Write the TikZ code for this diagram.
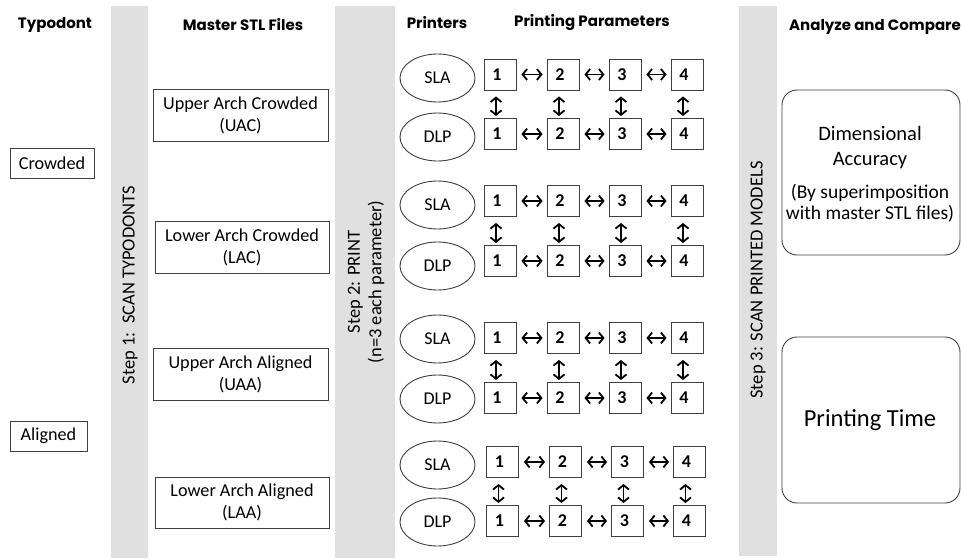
\documentclass[tikz,border=0pt]{standalone}
\usepackage{fontspec}
\setmainfont{Carlito}
\newfontfamily\hfont{Poppins}
\usetikzlibrary{shapes.geometric,arrows.meta}
\tikzset{
  hdr/.style={font=\hfont\bfseries\fontsize{15}{18}\selectfont},
  band/.style={fill=black!12,draw=none},
  plain/.style={draw=black!75,line width=0.9pt,font=\fontsize{18.2}{22}\selectfont,inner sep=0pt,align=center},
  printer/.style={ellipse,draw=black!75,line width=0.9pt,minimum width=75pt,minimum height=48pt,inner sep=0pt,font=\fontsize{18}{20}\selectfont},
  numbox/.style={draw=black!75,line width=0.9pt,minimum width=32pt,minimum height=31pt,inner sep=0pt,font=\bfseries\fontsize{18}{20}\selectfont},
  harr/.style={line width=1.8pt,{Straight Barb[length=4.5pt,width=11pt]}-{Straight Barb[length=4.5pt,width=11pt]},shorten <=5pt,shorten >=4pt},
  varr/.style={line width=1.8pt,{Straight Barb[length=4.5pt,width=11pt]}-{Straight Barb[length=4.5pt,width=11pt]},shorten <=6pt,shorten >=2pt},
  steptxt/.style={rotate=90,font=\fontsize{18.5}{21.5}\selectfont,align=center},
  result/.style={draw=black!75,line width=0.9pt,rounded corners=15pt}
}
\begin{document}
\begin{tikzpicture}[x=1pt,y=-1pt]
\useasboundingbox (0,0) rectangle (961,559);
\fill[white] (0,0) rectangle (961,559);
% bands
\fill[band] (111,6) rectangle (148,558);
\fill[band] (335,6) rectangle (395,558);
\fill[band] (739,6) rectangle (777,556);
% headers
\node[hdr] (h1) at (55,25) {Typodont};
\node[hdr] (h2) at (243,25) {Master STL Files};
\node[hdr] (h3) at (437,23) {Printers};
\node[hdr] (h4) at (592,23) {Printing Parameters};
\node[hdr] (h5) at (875,27) {Analyze and Compare};
% step texts
\node[steptxt] (s1) at (130,285) {Step 1:\ \ SCAN TYPODONTS};
\node[steptxt] (s2) at (366,282) {Step 2: PRINT\\(n=3 each parameter)};
\node[steptxt] (s3) at (758,280) {Step 3: SCAN PRINTED MODELS};
% typodonts
\node[plain,minimum width=84pt,minimum height=30pt] (crowded) at (52,163) {Crowded};
\node[plain,minimum width=77pt,minimum height=30pt] (aligned) at (48.5,436) {Aligned};
% master STL
\node[plain,minimum width=175pt,minimum height=52pt] (uac) at (240.5,115) {Upper Arch Crowded\\(UAC)};
\node[plain,minimum width=174pt,minimum height=52pt] (lac) at (242,247) {Lower Arch Crowded\\(LAC)};
\node[plain,minimum width=175pt,minimum height=52pt] (uaa) at (240.5,374) {Upper Arch Aligned\\(UAA)};
\node[plain,minimum width=174pt,minimum height=51pt] (laa) at (242,502.5) {Lower Arch Aligned\\(LAA)};
% printers
\foreach \g/\ys/\yd in {1/78/137, 2/205/266, 3/339/399, 4/465/522}{
  \node[printer] (sla\g) at (437.5,\ys) {SLA};
  \node[printer] (dlp\g) at (437.5,\yd) {DLP};
}
% parameter grids
\foreach \g/\ya/\yb/\dx in {1/74.5/134/0, 2/201/261/0, 3/338/398/0, 4/462/521/2.5}{
  \foreach \i/\x in {1/500,2/563,3/625,4/687}{
    \node[numbox] (a\g\i) at (\x+\dx,\ya) {\i\hspace*{6pt}};
    \node[numbox] (b\g\i) at (\x+\dx,\yb) {\i\hspace*{6pt}};
    \draw[varr] ([xshift=-4pt]a\g\i.south) -- ([xshift=-4pt]b\g\i.north);
  }
  \foreach \i/\j in {1/2,2/3,3/4}{
    \draw[harr] (a\g\i) -- (a\g\j);
    \draw[harr] (b\g\i) -- (b\g\j);
  }
}
% results
\draw[result] (782,90) rectangle (960,255);
\node[font=\fontsize{20.5}{24}\selectfont] (dim1) at (870,133) {Dimensional};
\node[font=\fontsize{20.5}{24}\selectfont] (dim2) at (870,161) {Accuracy};
\node[font=\fontsize{19.5}{22}\selectfont] (dim3) at (870,193) {(By superimposition};
\node[font=\fontsize{19.5}{22}\selectfont] (dim4) at (870,214) {with master STL files)};
\draw[result] (782,337) rectangle (960,503);
\node[font=\fontsize{24.5}{28}\selectfont] (pt) at (870,420) {Printing Time};
\end{tikzpicture}
\end{document}
